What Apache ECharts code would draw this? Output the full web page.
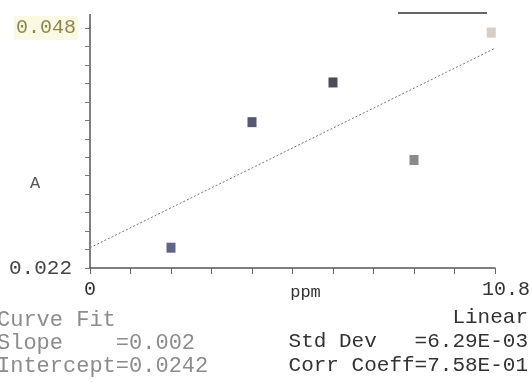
<!DOCTYPE html>
<html><head><meta charset="utf-8">
<script src="https://cdn.jsdelivr.net/npm/echarts@6/dist/echarts.min.js"></script>
<style>html,body{margin:0;padding:0;background:#fff}#c{width:532px;height:383px}</style>
</head><body><div id="c"></div>
<script>
// ---- data ----
const xValues = [2.16, 4.32, 6.48, 8.64, 10.7];          // ppm
const yValues = [0.0242, 0.0378, 0.0421, 0.0337, 0.0475]; // A
const pointColors = ['#3a3d66', '#2c2e50', '#1e1f2e', '#6e6e72', '#cdbfb0'];
const xTickLabels = ['0', '10.8'];
const yTickLabels = ['0.022', '0.048'];
const fitSlope = 0.002;
const fitIntercept = 0.0242;
const leftNotes = ['Curve Fit', 'Slope    =0.002', 'Intercept=0.0242'];
const rightNotes = ['Linear', 'Std Dev   =6.29E-03', 'Corr Coeff=7.58E-01'];

const xMin = 0, xMax = 10.8, xStep = 1.08;
const yMin = 0.022, yMax = 0.048, yStep = 0.002;
const FONT = '"Liberation Mono", "DejaVu Sans Mono", monospace';

const pts = xValues.map((x, i) => ({ value: [x, yValues[i]], itemStyle: { color: pointColors[i] } }));
const fit = [[xMin, fitIntercept], [xMax, fitIntercept + fitSlope * xMax]];

const chart = echarts.init(document.getElementById('c'));
chart.setOption({
  backgroundColor: '#fff',
  animation: false,
  grid: { left: 90, right: 37, top: 28, bottom: 115, containLabel: false, outerBoundsMode: 'none' },
  xAxis: {
    type: 'value', min: xMin, max: xMax, interval: xStep,
    splitLine: { show: false },
    axisLine: { lineStyle: { color: '#555', width: 1.5 } },
    axisTick: { length: 6, lineStyle: { color: '#666' } },
    name: 'ppm', nameLocation: 'middle', nameGap: 16, nameMoveOverlap: false,
    nameTextStyle: { fontFamily: FONT, fontSize: 17, color: '#333', padding: [0, 0, 0, 26] },
    axisLabel: {
      margin: 12,
      showMinLabel: true, showMaxLabel: true,
      formatter: (v) => {
        if (Math.abs(v - xMin) < 1e-6) return '{a|' + xTickLabels[0] + '}';
        if (Math.abs(v - xMax) < 1e-6) return '{b|' + xTickLabels[1] + '}';
        return '';
      },
      rich: {
        a: { fontFamily: FONT, fontSize: 20, color: '#333' },
        b: { fontFamily: FONT, fontSize: 20, color: '#333', padding: [0, 0, 0, 22] }
      }
    }
  },
  yAxis: {
    type: 'value', min: yMin, max: yMax, interval: yStep,
    splitLine: { show: false },
    axisLine: { lineStyle: { color: '#555', width: 1.5 } },
    axisTick: { length: 5, lineStyle: { color: '#777' } },
    axisLabel: {
      margin: 12,
      showMinLabel: true, showMaxLabel: true,
      formatter: (v) => {
        if (Math.abs(v - yMin) < 1e-7) return '{a|' + yTickLabels[0] + '}';
        if (Math.abs(v - yMax) < 1e-7) return '{b|' + yTickLabels[1] + '}';
        return '';
      },
      rich: {
        a: { fontFamily: FONT, fontSize: 21, color: '#444', padding: [0, 6, 0, 0] },
        b: { fontFamily: FONT, fontSize: 20, color: '#8d8750', backgroundColor: '#fbf8e4', padding: [2, 2, 2, 2] }
      }
    }
  },
  series: [
    {
      type: 'line', data: fit, symbol: 'none', silent: true,
      lineStyle: { color: '#777', width: 1, type: [2, 2] }
    },
    {
      type: 'scatter', data: pts, symbol: 'rect', symbolSize: [9, 10]
    }
  ],
  graphic: [
    { type: 'line', shape: { x1: 398, y1: 13, x2: 487, y2: 13 }, style: { stroke: '#666', lineWidth: 2 } },
    { type: 'line', shape: { x1: 90, y1: 14, x2: 90, y2: 28 }, style: { stroke: '#555', lineWidth: 1.5 } },
    { type: 'text', left: 30, top: 175, style: { text: 'A', font: '17px ' + FONT, fill: '#555' } },
    ...leftNotes.map((t, i) => ({
      type: 'text', left: -3, top: 309 + i * 23,
      style: { text: t, font: '22px ' + FONT, fill: '#8c8c8c' }
    })),
    ...rightNotes.map((t, i) => ({
      type: 'text', right: 4, top: 307 + i * 24,
      style: { text: t, font: '21px ' + FONT, fill: '#333', textAlign: 'right' }
    }))
  ]
});
</script></body></html>
